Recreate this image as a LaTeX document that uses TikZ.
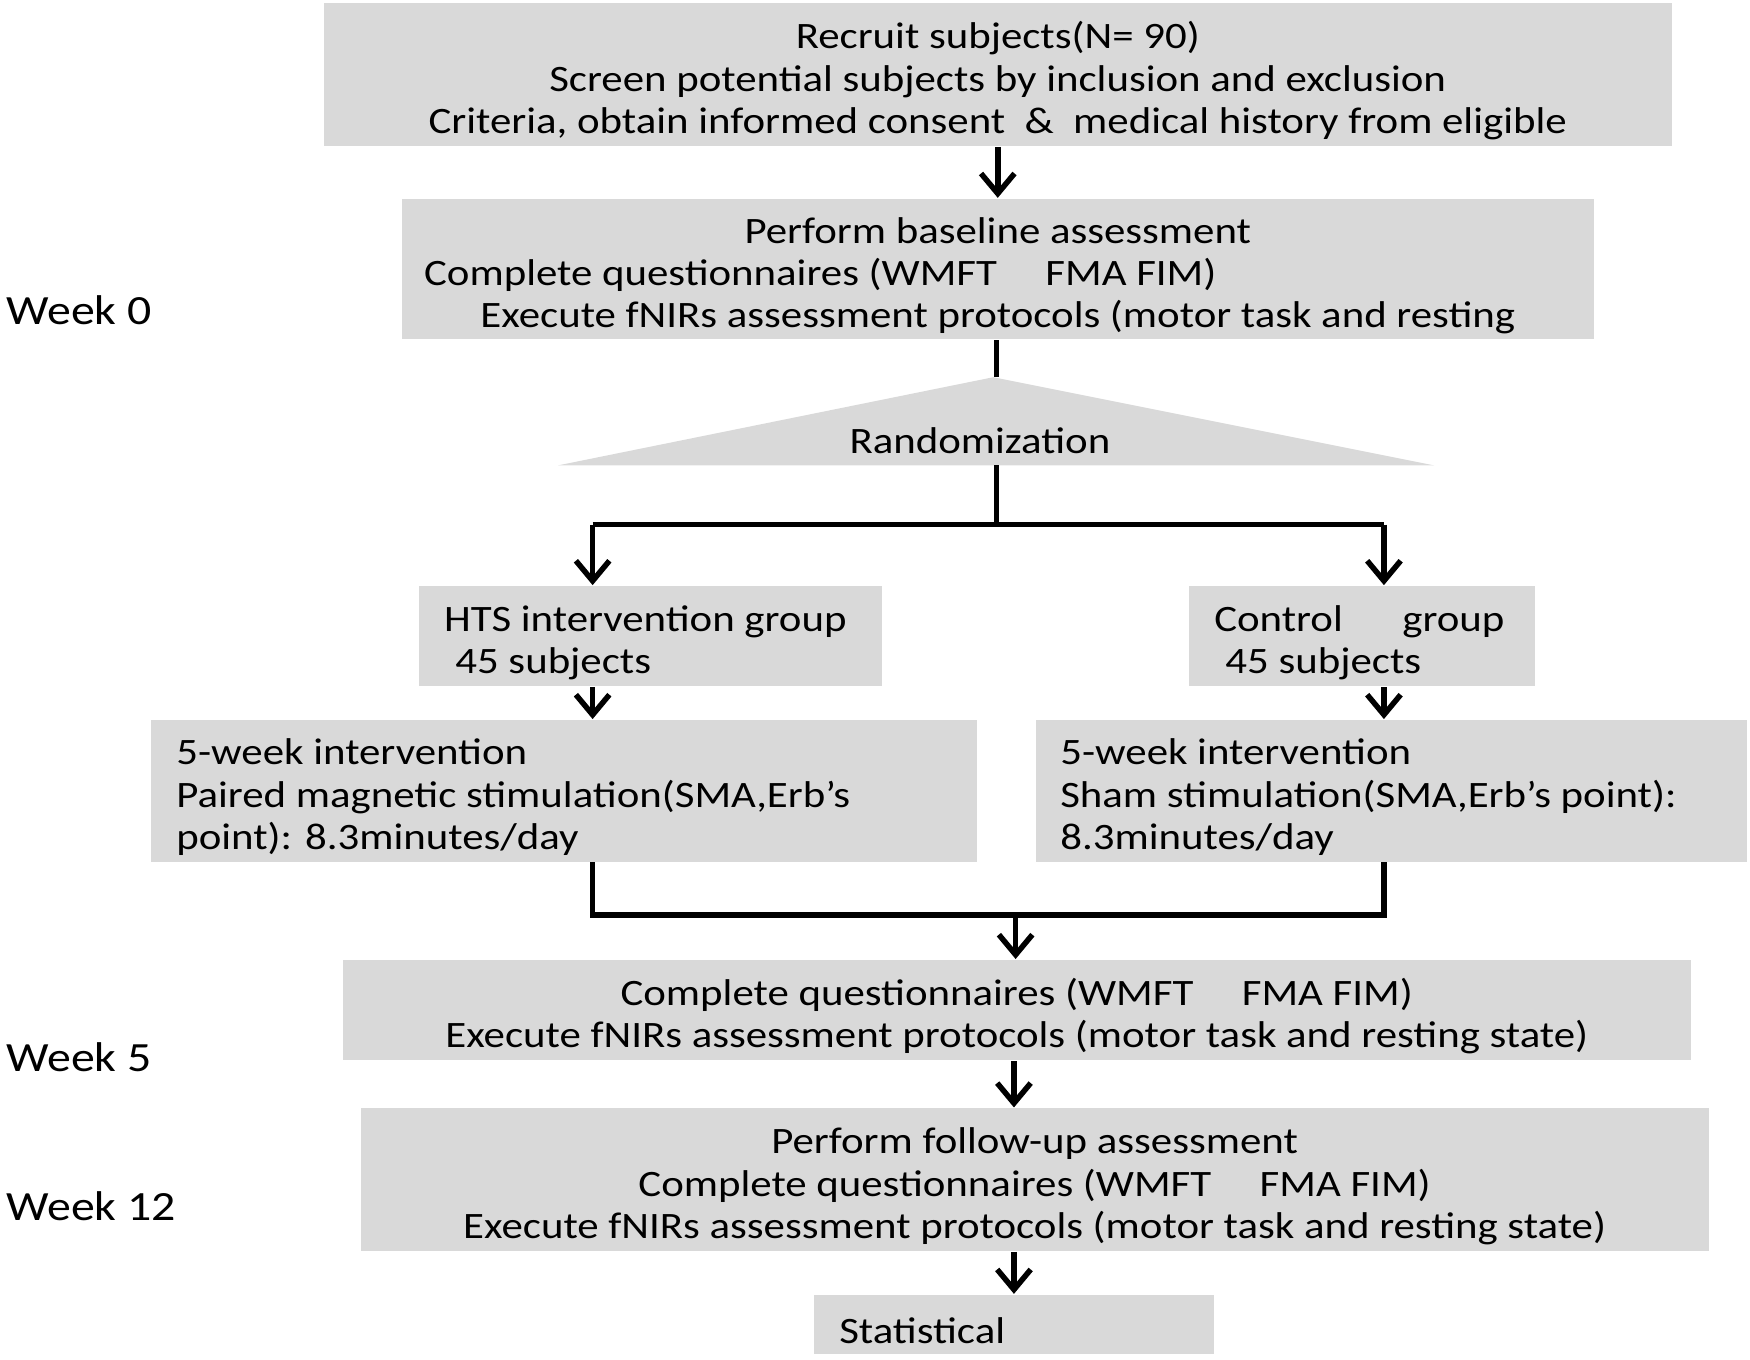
\documentclass[tikz,border=0pt]{standalone}
\usepackage{fontspec}
\setmainfont{Carlito}[FakeStretch=1.15]
\usetikzlibrary{arrows.meta}
\definecolor{boxgray}{RGB}{217,217,217}
\newcommand{\boxfont}{\fontsize{9.5}{10.8}\selectfont}
\tikzstyle{greybox}=[rectangle, fill=boxgray, inner sep=0, font=\boxfont, align=flush center,
	execute at begin node={\rule{0pt}{10pt}}]
\tikzstyle{leftbox}=[greybox, align=flush left, inner xsep=2.3mm]
\tikzstyle{link}=[line width=1.4pt]
\tikzstyle{arrow}=[link, -{Straight Barb[length=1.8mm,width=3mm]}]
\tikzstyle{week}=[anchor=west, inner sep=0, font=\fontsize{10.6}{12}\selectfont]

\begin{document}
\begin{tikzpicture}[x=0.1mm, y=-0.1mm]
\useasboundingbox (0,0) rectangle (1568,1218);

\node[greybox, text width=120.8mm, minimum height=12.8mm] (recruit) at (894,67)
	{Recruit subjects(N= 90)\\Screen potential subjects by inclusion and exclusion\\
	Criteria, obtain informed consent \ \& \ medical history from eligible};
\node[greybox, text width=106.8mm, minimum height=12.6mm] (baseline) at (894,241)
	{Perform baseline assessment\\
	Complete questionnaires (WMFT\hspace{1.3em}FMA FIM)\hspace*{3.18cm}\mbox{}\\
	Execute fNIRs assessment protocols (motor task and resting};

% randomization
\fill[boxgray] (890,338) -- (1285,417) -- (500,417) -- cycle;
\node[font=\boxfont] (rand) at (878,395) {Randomization};
\coordinate (apex) at (893,338);
\coordinate (base) at (893,417);
\coordinate (split) at (893,470);
\coordinate (left) at (531,470);
\coordinate (right) at (1240,470);

\node[leftbox, text width=36.9mm, minimum height=9mm] (hts) at (582.5,570)
	{HTS intervention group\\\hspace*{1mm}45 subjects};
\node[leftbox, text width=26.4mm, minimum height=9mm] (ctrl) at (1220,570)
	{Control\hspace{1.6em}group\\\hspace*{1mm}45 subjects};
\node[leftbox, text width=69.4mm, minimum height=12.7mm] (pairs) at (505,708.5)
	{5-week intervention\\Paired magnetic stimulation(SMA,Erb’s\\point): 8.3minutes/day};
\node[leftbox, inner xsep=2.2mm, text width=59.3mm, minimum height=12.7mm] (sham) at (1246.5,708.5)
	{5-week intervention\\Sham stimulation(SMA,Erb’s point):\\8.3minutes/day};
\coordinate (joinl) at (531,820);
\coordinate (joinr) at (1240,820);
\coordinate (join) at (910,820);

\node[greybox, text width=120.8mm, minimum height=9mm] (post) at (911,905)
	{Complete questionnaires (WMFT\hspace{1.3em}FMA FIM)\\
	Execute fNIRs assessment protocols (motor task and resting state)};
\node[greybox, text width=120.8mm, minimum height=12.8mm] (follow) at (927,1057)
	{Perform follow-up assessment\\
	Complete questionnaires (WMFT\hspace{1.3em}FMA FIM)\\
	Execute fNIRs assessment protocols (motor task and resting state)};
\node[leftbox, text width=31.3mm, minimum height=5.3mm] (stat) at (908.5,1186.5) {Statistical};

\foreach \w/\y in {0/278,5/947,12/1081}
	\node[week] (week\w) at (5,\y) {Week \w};

% connectors
\draw[arrow] (recruit) -- (baseline);
\draw[link] (baseline.south -| apex) -- (apex);
\draw[link] (base) -- (split);
\draw[link] (left) -- (right);
\draw[arrow] (left) -- (left |- hts.north);
\draw[arrow] (right) -- (right |- ctrl.north);
\draw[arrow] (hts.south -| left) -- (left |- pairs.north);
\draw[arrow] (ctrl.south -| right) -- (right |- sham.north);
\draw[link] (pairs.south -| left) -- (joinl) -- (joinr) -- (sham.south -| right);
\draw[arrow] (join) -- (post.north -| join);
\draw[arrow] (post.south -| stat) -- (follow.north -| stat);
\draw[arrow] (follow.south -| stat) -- (stat);
\end{tikzpicture}
\end{document}
